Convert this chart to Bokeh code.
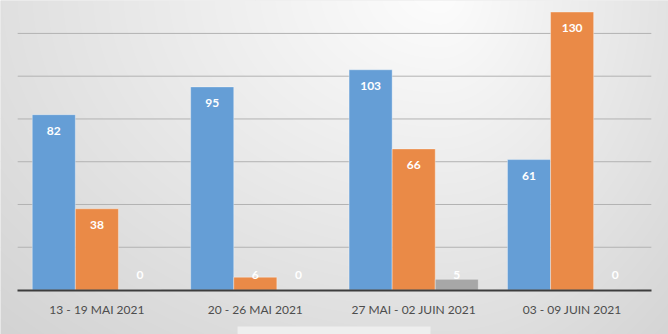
import numpy as np
from bokeh.plotting import figure
from bokeh.models import FactorRange, Range1d, ColumnDataSource, CategoricalAxis
from bokeh.transform import dodge
from bokeh.core.properties import value
from bokeh.embed import file_html
from bokeh.resources import INLINE

# ---- data ----
categories = ["13 - 19 MAI 2021", "20 - 26 MAI 2021", "27 MAI - 02 JUIN 2021", "03 - 09 JUIN 2021"]
series_blue = [82, 95, 103, 61]
series_orange = [38, 6, 66, 130]
series_gray = [0, 0, 5, 0]
grid_values = [20, 40, 60, 80, 100, 120]

# ---- layout constants ----
W, H = 668, 334
Y0, Y1 = -20.8, 135.4
PAD = 0.1085
BAR_W = 0.272
OFFSETS = [-0.272, 0.0, 0.272]
COLORS = ["#659ed6", "#ea8a47", "#a7a7a7"]

p = figure(width=W, height=H,
           x_range=FactorRange(factors=categories, range_padding=PAD,
                               range_padding_units="absolute"),
           y_range=Range1d(Y0, Y1),
           x_axis_location=None, y_axis_location=None,
           toolbar_location=None, output_backend="svg",
           min_border=0, outline_line_color=None)
p.background_fill_color = "#e0e0e0"
p.border_fill_color = "#e0e0e0"

# background gradient (style only)
yy, xx = np.mgrid[0:H, 0:W].astype(float)
cx, cy = 440.0, -10.0
dx = xx - cx
kx = np.where(dx < 0, 0.066, 0.115)
v = 253 - np.sqrt((kx * dx) ** 2 + (0.088 * (yy - cy)) ** 2)
v = np.clip(v, 0, 255).astype(np.uint8)
rgba = np.zeros((H, W, 4), dtype=np.uint8)
rgba[..., 0] = v
rgba[..., 1] = v
rgba[..., 2] = v
rgba[..., 3] = 255
img = np.flipud(rgba).copy().view(dtype=np.uint32).reshape((H, W))
p.image_rgba(image=[img], x=-PAD, y=Y0, dw=4 + 2 * PAD, dh=Y1 - Y0)

# gridlines
p.segment(x0=[0] * len(grid_values), x1=[4] * len(grid_values),
          y0=grid_values, y1=grid_values, line_color="#b3b3b3", line_width=1)

# legend remnant box at bottom
p.quad(left=[1.388], right=[2.606], bottom=[Y0 - 1], top=[-17.1],
       fill_color="#eeeeee", line_color=None)

series = [series_blue, series_orange, series_gray]
for vals, off, col in zip(series, OFFSETS, COLORS):
    ly = [max(val - 7.5, 6.8) for val in vals]
    src = ColumnDataSource(dict(cat=categories, val=vals, ly=ly,
                                lab=[str(val) for val in vals]))
    p.vbar(x=dodge("cat", off, range=p.x_range), top="val", bottom=0, width=BAR_W,
           source=src, fill_color=col, line_color="white", line_alpha=0.45, line_width=0.8)
    p.text(x=dodge("cat", off, range=p.x_range), y="ly", text="lab", source=src,
           text_color="white", text_font=value("Lato"), text_font_style="bold",
           text_font_size="12px", text_align="center", text_baseline="middle")

xaxis = CategoricalAxis(fixed_location=0, bounds=(0, 4))
xaxis.axis_line_color = "#3d3d3d"
xaxis.axis_line_width = 1.8
xaxis.major_tick_line_color = None
xaxis.minor_tick_line_color = None
xaxis.major_label_standoff = 6
xaxis.major_label_text_font = "Lato"
xaxis.major_label_text_font_size = "12px"
xaxis.major_label_text_color = "#4d4d4d"
p.add_layout(xaxis, "below")

open("out.html", "w").write(file_html(p, INLINE))
